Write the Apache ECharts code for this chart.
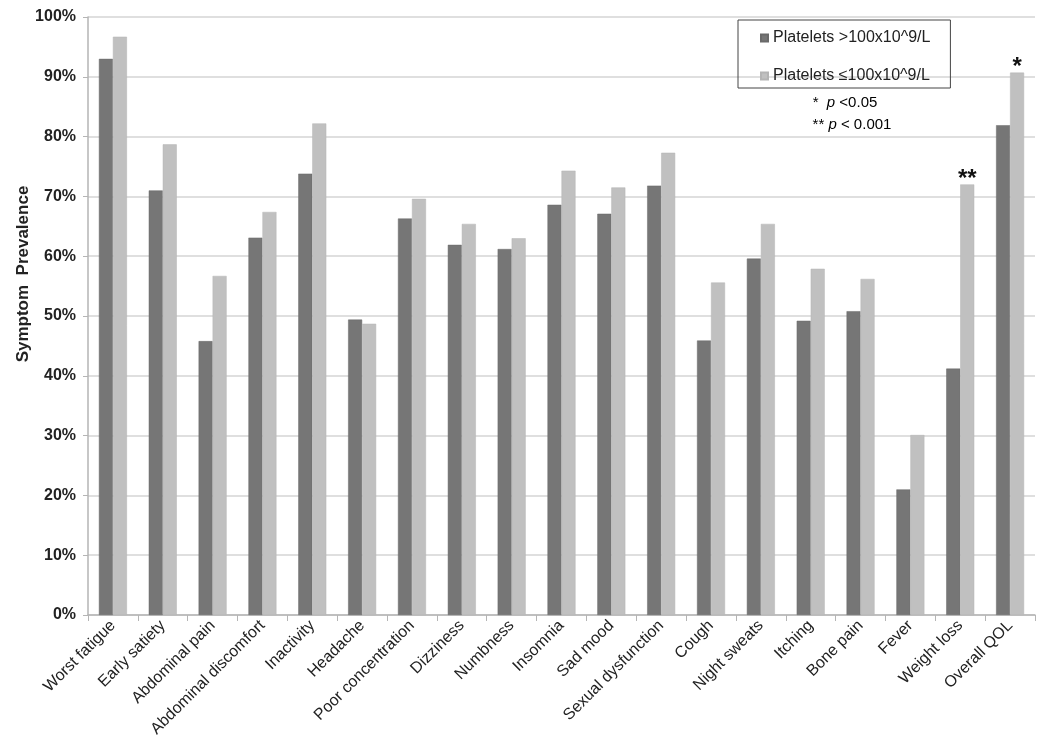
<!DOCTYPE html>
<html><head><meta charset="utf-8">
<script src="https://cdn.jsdelivr.net/npm/echarts@6/dist/echarts.min.js"></script>
<style>html,body{margin:0;padding:0;background:#fff}#c{width:1050px;height:751px}</style>
</head><body><div id="c"></div>
<script>
var categories = ["Worst fatigue","Early satiety","Abdominal pain","Abdominal discomfort","Inactivity","Headache","Poor concentration","Dizziness","Numbness","Insomnia","Sad mood","Sexual dysfunction","Cough","Night sweats","Itching","Bone pain","Fever","Weight loss","Overall QOL"];
var highPlatelets = [93.0,71.0,45.8,63.1,73.8,49.4,66.3,61.9,61.2,68.6,67.1,71.8,45.9,59.6,49.2,50.8,21.0,41.2,81.9];
var lowPlatelets  = [96.7,78.7,56.7,67.4,82.2,48.7,69.6,65.4,63.0,74.3,71.5,77.3,55.6,65.4,57.9,56.2,30.1,72.0,90.7];
var sigMarks      = ["","","","","","","","","","","","","","","","","","**","*"];
var seriesNames = ["Platelets >100x10^9/L","Platelets \u2264100x10^9/L"];
var yTicks = [0,10,20,30,40,50,60,70,80,90,100];

var FONT = "Liberation Sans, Arial, sans-serif";
var chart = echarts.init(document.getElementById('c'));
var lowData = lowPlatelets.map(function(v,i){
  return sigMarks[i] ? {value:v,label:{show:true,position:'top',distance:-7,formatter:sigMarks[i],fontSize:24,fontWeight:'bold',color:'#111',fontFamily:FONT}} : v;
});
var rich = {n:{fontSize:15,fontFamily:FONT,color:'#222'},i:{fontSize:15,fontStyle:'italic',fontFamily:FONT,color:'#222'}};
chart.setOption({
  animation:false,
  backgroundColor:'#fff',
  grid:{left:88,right:15,top:17,bottom:136,containLabel:false},
  legend:{
    orient:'vertical', left:738, top:20,
    padding:[10,20,4,22], itemGap:22, itemWidth:7, itemHeight:7,
    borderColor:'#444', borderWidth:1,
    textStyle:{fontSize:16,color:'#222',fontFamily:FONT},
    icon:'rect',
    data:seriesNames
  },
  xAxis:{
    type:'category', data:categories,
    axisLine:{lineStyle:{color:'#b5b5b5',width:1.5}},
    axisTick:{show:true,interval:0,length:6,lineStyle:{color:'#b5b5b5'}},
    axisLabel:{interval:0,rotate:45,fontSize:16,color:'#222',fontFamily:FONT,margin:8}
  },
  yAxis:{
    type:'value', min:0, max:100, interval:10,
    name:'Symptom  Prevalence', nameLocation:'middle', nameGap:56, nameMoveOverlap:false,
    nameTextStyle:{fontSize:17,fontWeight:'bold',color:'#222',fontFamily:FONT,padding:[0,0,0,84]},
    axisLine:{show:true,lineStyle:{color:'#b5b5b5',width:1.5}},
    axisTick:{show:true,length:5,lineStyle:{color:'#b5b5b5'}},
    splitLine:{lineStyle:{color:'#d4d4d4',width:1.5}},
    axisLabel:{fontSize:16,fontWeight:'bold',color:'#222',fontFamily:FONT,margin:12,
      formatter:function(v){return yTicks.indexOf(v)>=0 ? v+'%' : '';}}
  },
  series:[
    {name:seriesNames[0],type:'bar',data:highPlatelets,barWidth:14,barGap:'0%',
     itemStyle:{color:'#767676',borderColor:'#6a6a6a',borderWidth:0.5}},
    {name:seriesNames[1],type:'bar',data:lowData,barWidth:14,
     itemStyle:{color:'#c0c0c0',borderColor:'#b4b4b4',borderWidth:0.5}}
  ],
  graphic:[
    {type:'text',x:845,y:103,style:{text:'{n|*  }{i|p}{n| <0.05}',rich:rich,align:'center',verticalAlign:'middle'}},
    {type:'text',x:852,y:125,style:{text:'{n|** }{i|p}{n| < 0.001}',rich:rich,align:'center',verticalAlign:'middle'}}
  ]
});
</script></body></html>
